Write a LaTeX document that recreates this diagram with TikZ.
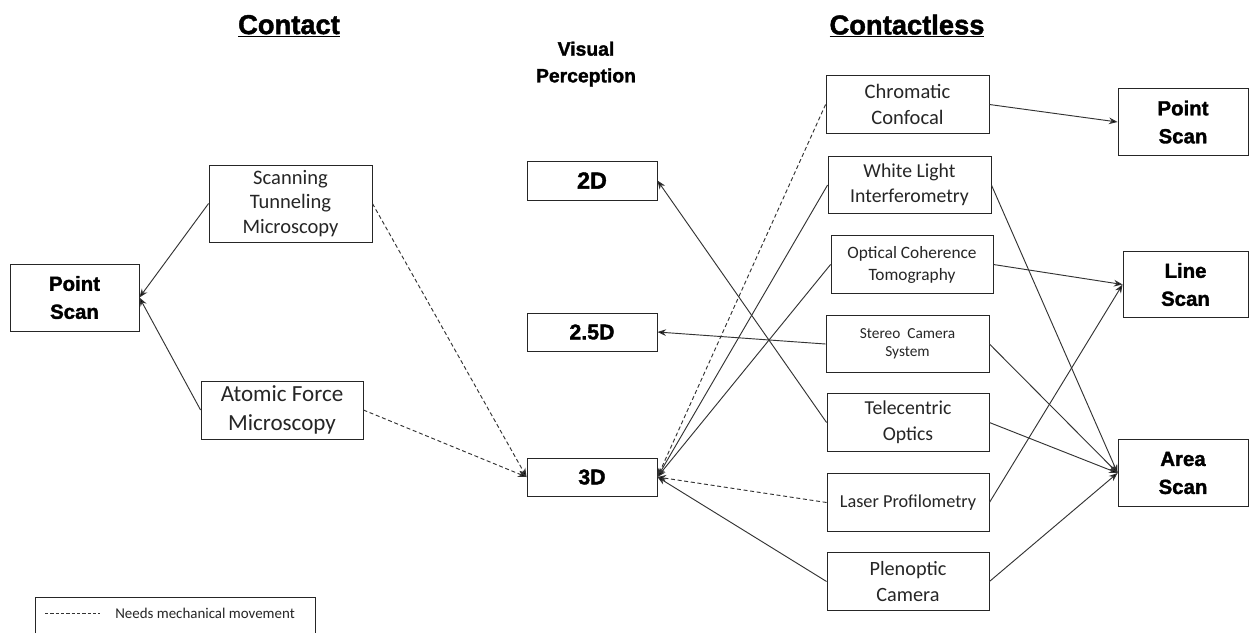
\documentclass[tikz,border=0pt]{standalone}
\usepackage{fontspec}
\setmainfont{Carlito}
\newfontfamily\heavy{Liberation Sans}[BoldFeatures={FakeBold=1.6}]
\usetikzlibrary{arrows.meta}
\tikzset{
  box/.style={draw=black!85, line width=0.65pt, inner sep=0pt, align=center, text=black!85},
  sz/.style 2 args={minimum width=#1*0.75pt, minimum height=#2*0.75pt},
  fs/.style 2 args={font=\fontsize{#1}{#2}\selectfont},
  bl/.style={font=\heavy\bfseries\fontsize{15.3}{21}\selectfont, text=black},
  conn/.style={draw=black!80, line width=0.7pt, -{Stealth[length=6.5pt,width=5pt,fill=black]}},
  mech/.style={conn, dash pattern=on 3pt off 2pt},
  title/.style={font=\heavy\bfseries\fontsize{20.5}{24}\selectfont, text=black, inner sep=0pt}
}
\begin{document}
\begin{tikzpicture}[x=0.75pt,y=-0.75pt]
\fill[white] (0,0) rectangle (1249,633);
\useasboundingbox (0,0) rectangle (1249,633);

% titles
\node[title] (tContact) at (289,26) {\underline{Contact}};
\node[title] (tContactless) at (907,26) {\underline{Contactless}};
\node[align=center, inner sep=0pt, font=\heavy\bfseries\fontsize{14.5}{20}\selectfont] (tVis) at (586,64) {Visual\\Perception};

% contact side
\node[box, bl, sz={129}{67}] (psL) at (74.5,297.5) {Point\\Scan};
\node[box, sz={163}{77}, fs={15.4}{18.5}] (stm) at (290.5,203.5) {Scanning\\Tunneling\\Microscopy};
\node[box, sz={162}{58}, fs={17.3}{21.7}] (afm) at (282,410) {Atomic Force\\Microscopy};

% visual perception
\node[box, sz={130}{39}, font=\heavy\bfseries\fontsize{17.5}{21}\selectfont, text=black] (d2) at (592,180.5) {2D};
\node[box, sz={130}{38}, font=\heavy\bfseries\fontsize{16}{20}\selectfont, text=black] (d25) at (592,332) {2.5D};
\node[box, sz={130}{38}, font=\heavy\bfseries\fontsize{16}{20}\selectfont, text=black] (d3) at (592,477) {3D};

% contactless methods
\node[box, sz={163}{58}, fs={15.4}{19.5}] (cc) at (907.5,104.5) {Chromatic\\Confocal};
\node[box, sz={163}{57}, fs={14.8}{19}] (wli) at (909.5,185) {White Light\\Interferometry};
\node[box, sz={162}{58}, fs={13}{16.5}] (oct) at (912,264.5) {Optical Coherence\\Tomography};
\node[box, sz={163}{57}, fs={11.5}{13.5}] (ster) at (907.5,344) {Stereo\ \ Camera\\System};
\node[box, sz={162}{58}, fs={14.8}{19.5}] (tele) at (908,422.5) {Telecentric\\Optics};
\node[box, sz={162}{58}, fs={13.7}{17}] (laser) at (908,502.5) {Laser Profilometry};
\node[box, sz={162}{58}, fs={15.2}{19.5}] (pleno) at (908,581.5) {Plenoptic\\Camera};

% scan types
\node[box, bl, sz={130}{67}] (psR) at (1183,122) {Point\\Scan};
\node[box, bl, sz={125}{66}] (ls) at (1185.5,284.5) {Line\\Scan};
\node[box, bl, sz={130}{67}] (as) at (1183,473) {Area\\Scan};

% contact connectors
\draw[conn] (stm.west) -- (psL.east);
\draw[conn] (afm.west) -- (psL.east);
\draw[mech] (stm.east) -- (d3.west);
\draw[mech] (afm.east) -- (d3.west);

% to visual perception
\draw[conn] (tele.west) -- (d2.east);
\draw[conn] (ster.west) -- (d25.east);
\draw[mech] (cc.west) -- (d3.east);
\draw[conn] (wli.west) -- (d3.east);
\draw[conn] (oct.west) -- (d3.east);
\draw[mech] (laser.west) -- (d3.east);
\draw[conn] (pleno.west) -- (d3.east);

% to scan types
\draw[conn] (cc.east) -- (psR.west);
\draw[conn] (oct.east) -- (ls.west);
\draw[conn] (laser.east) -- (ls.west);
\draw[conn] (wli.east) -- (as.west);
\draw[conn] (ster.east) -- (as.west);
\draw[conn] (tele.east) -- (as.west);
\draw[conn] (pleno.east) -- (as.west);

% legend
\draw[draw=black!85, line width=0.65pt] (35,633) -- (35,597) -- (315,597) -- (315,633);
\coordinate (lgA) at (45,613);
\coordinate (lgB) at (100,613);
\draw[black!80, line width=0.65pt, dash pattern=on 2.5pt off 1.5pt] (lgA) -- (lgB);
\node[anchor=west, inner sep=0pt, fs={11.2}{13}, text=black!85] (lgT) at (115,613) {Needs mechanical movement};
\end{tikzpicture}
\end{document}
